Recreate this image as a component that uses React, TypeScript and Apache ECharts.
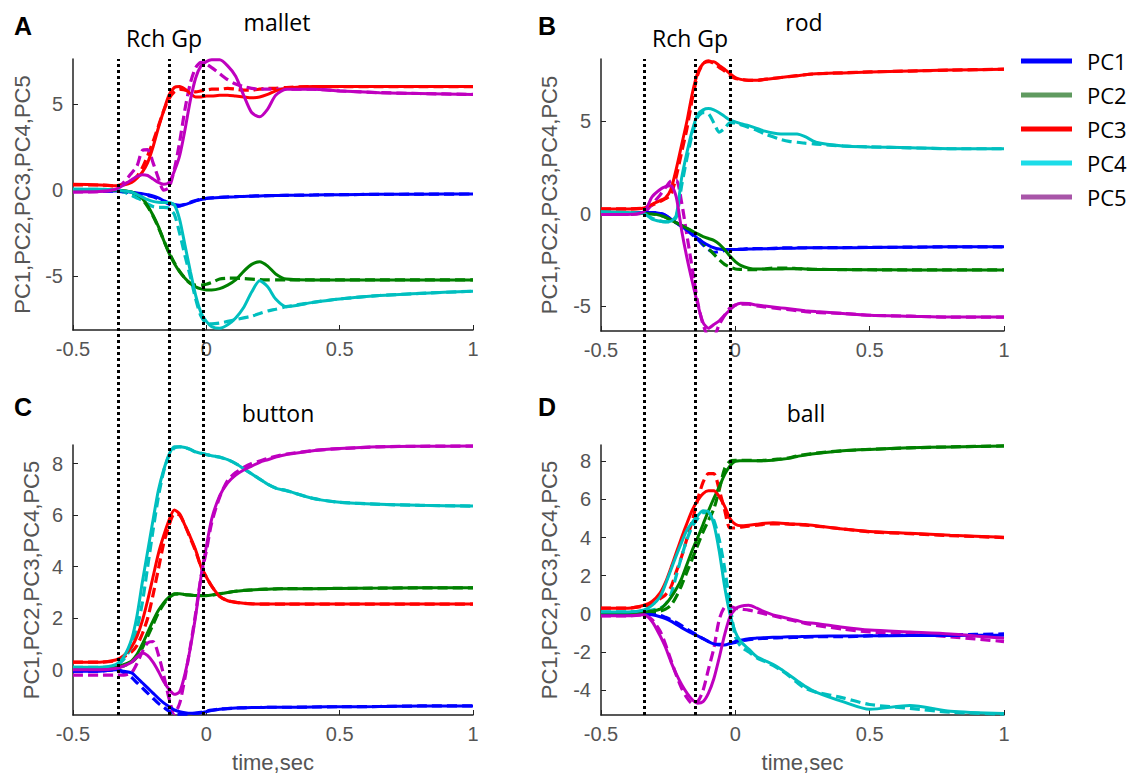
import React, { useEffect, useRef } from 'react';
import * as echarts from 'echarts';

// ---------- shared time grid (s) ----------
const T = [-0.5, -0.4, -0.34, -0.31, -0.28, -0.26, -0.24, -0.22, -0.2, -0.18, -0.16, -0.14, -0.12, -0.1, -0.08, -0.06, -0.04, -0.02, 0, 0.02, 0.05, 0.08, 0.11, 0.14, 0.17, 0.2, 0.23, 0.26, 0.3, 0.4, 0.5, 0.65, 0.8, 1.0];

const PC_NAMES = ['PC1', 'PC2', 'PC3', 'PC4', 'PC5'];
const LINE_COLORS = ['#0000ff', '#008000', '#ff0000', '#00bfbf', '#bf00bf'];
const LEGEND_COLORS = ['#0000ff', '#5f9a5f', '#ff0000', '#1cdce8', '#a855a8'];
const PANEL_LETTERS = ['A', 'B', 'C', 'D'];
const PANEL_TITLES = ['mallet', 'rod', 'button', 'ball'];
const EVENT_LABEL = 'Rch Gp';
const EVENTS_LEFT = [-0.33, -0.136, -0.01];
const EVENTS_RIGHT = [-0.338, -0.15, -0.021];
const X_TICKS = [-0.5, 0, 0.5, 1];
const A_TICKS = [-5, 0, 5];
const B_TICKS = [-5, 0, 5];
const C_TICKS = [0, 2, 4, 6, 8];
const D_TICKS = [-4, -2, 0, 2, 4, 6, 8];

// ---------- A: mallet ----------
const A_PC1 = [-0.05, -0.05, -0.05, -0.08, -0.12, -0.16, -0.2, -0.26, -0.33, -0.45, -0.6, -0.74, -0.83, -0.87, -0.83, -0.73, -0.62, -0.54, -0.48, -0.45, -0.42, -0.4, -0.38, -0.36, -0.35, -0.33, -0.32, -0.31, -0.3, -0.28, -0.26, -0.24, -0.23, -0.22];
const A_PC1_D = [-0.05, -0.05, -0.05, -0.1, -0.15, -0.2, -0.25, -0.3, -0.38, -0.5, -0.65, -0.8, -0.95, -0.92, -0.82, -0.7, -0.6, -0.52, -0.47, -0.44, -0.41, -0.39, -0.37, -0.36, -0.34, -0.33, -0.32, -0.31, -0.3, -0.28, -0.26, -0.24, -0.23, -0.22];
const A_PC2 = [0, 0, 0, -0.03, -0.1, -0.25, -0.48, -0.9, -1.45, -2.1, -2.9, -3.65, -4.25, -4.73, -5.1, -5.4, -5.6, -5.72, -5.78, -5.78, -5.7, -5.5, -5.2, -4.7, -4.3, -4.15, -4.4, -4.85, -5.15, -5.2, -5.2, -5.2, -5.2, -5.2];
const A_PC2_D = [0, 0, 0, -0.05, -0.15, -0.3, -0.55, -0.95, -1.5, -2.15, -2.9, -3.6, -4.2, -4.7, -5.1, -5.4, -5.5, -5.5, -5.45, -5.35, -5.15, -5.1, -5.1, -5.12, -5.15, -5.18, -5.2, -5.2, -5.2, -5.2, -5.2, -5.2, -5.2, -5.2];
const A_PC3 = [0.35, 0.3, 0.25, 0.3, 0.45, 0.7, 1.05, 1.6, 2.5, 3.6, 4.6, 5.5, 5.95, 6.0, 5.85, 5.6, 5.4, 5.4, 5.45, 5.45, 5.5, 5.5, 5.45, 5.4, 5.35, 5.4, 5.55, 5.75, 5.9, 6.0, 6.0, 6.0, 6.0, 6.0];
const A_PC3_D = [0.3, 0.3, 0.25, 0.35, 0.55, 0.8, 1.3, 2.0, 2.8, 3.7, 4.6, 5.3, 5.7, 5.85, 5.8, 5.75, 5.7, 5.75, 5.8, 5.85, 5.85, 5.9, 5.85, 5.8, 5.8, 5.85, 5.9, 5.9, 5.95, 6.0, 6.0, 6.0, 6.0, 6.0];
const A_PC4 = [0.05, 0.05, 0.02, -0.05, -0.12, -0.25, -0.4, -0.55, -0.65, -0.7, -0.72, -0.72, -0.85, -1.7, -3.2, -4.7, -6.1, -7.1, -7.6, -7.9, -8.0, -7.8, -7.4, -6.8, -5.9, -5.25, -5.6, -6.3, -6.75, -6.5, -6.3, -6.1, -5.98, -5.85];
const A_PC4_D = [0.05, 0.05, 0, -0.1, -0.3, -0.45, -0.6, -0.8, -0.95, -1.0, -1.0, -1.05, -1.4, -2.5, -3.8, -5.0, -6.3, -7.3, -7.7, -7.75, -7.7, -7.6, -7.5, -7.4, -7.3, -7.15, -7.0, -6.9, -6.75, -6.5, -6.3, -6.1, -5.98, -5.85];
const A_PC5 = [-0.1, -0.08, 0.05, 0.3, 0.6, 0.8, 0.9, 0.85, 0.65, 0.45, 0.35, 0.45, 1.1, 2.0, 3.5, 5.2, 6.5, 7.2, 7.45, 7.55, 7.55, 7.2, 6.6, 5.5, 4.5, 4.25, 4.7, 5.5, 5.85, 5.85, 5.75, 5.65, 5.6, 5.55];
const A_PC5_D = [-0.1, -0.08, 0.05, 0.45, 1.0, 1.4, 2.3, 2.35, 1.6, 0.7, 0.0, 0.15, 1.2, 2.8, 4.7, 6.2, 7.1, 7.4, 7.3, 7.1, 6.75, 6.4, 6.15, 6.0, 5.9, 5.85, 5.85, 5.85, 5.85, 5.85, 5.75, 5.65, 5.6, 5.55];

// ---------- B: rod ----------
const B_PC1 = [0, 0, 0.05, 0.05, 0, -0.1, -0.3, -0.5, -0.7, -0.9, -1.1, -1.35, -1.55, -1.72, -1.85, -1.92, -1.95, -1.95, -1.95, -1.95, -1.92, -1.9, -1.9, -1.9, -1.88, -1.88, -1.87, -1.86, -1.85, -1.85, -1.84, -1.82, -1.8, -1.8];
const B_PC1_D = [0, 0, 0.05, 0.05, 0, -0.1, -0.3, -0.5, -0.7, -0.9, -1.15, -1.4, -1.7, -1.95, -2.1, -2.05, -2.0, -1.95, -1.95, -1.93, -1.9, -1.9, -1.9, -1.88, -1.86, -1.85, -1.85, -1.85, -1.85, -1.84, -1.83, -1.82, -1.8, -1.8];
const B_PC2 = [0, 0, 0, -0.02, -0.1, -0.2, -0.35, -0.5, -0.65, -0.8, -0.95, -1.1, -1.25, -1.35, -1.45, -1.65, -1.95, -2.3, -2.6, -2.8, -2.95, -3.0, -3.0, -3.0, -3.0, -2.98, -2.98, -3.0, -3.02, -3.03, -3.04, -3.05, -3.05, -3.05];
const B_PC2_D = [0, 0, 0, -0.02, -0.1, -0.2, -0.35, -0.5, -0.65, -0.8, -1.0, -1.3, -1.6, -1.9, -2.2, -2.5, -2.75, -2.9, -3.0, -3.02, -3.03, -3.03, -3.0, -2.95, -2.95, -2.95, -2.98, -3.0, -3.02, -3.03, -3.04, -3.05, -3.05, -3.05];
const B_PC3 = [0.25, 0.25, 0.3, 0.5, 0.7, 0.85, 1.3, 2.4, 3.7, 5.0, 6.5, 7.6, 8.1, 8.2, 8.2, 8.0, 7.8, 7.55, 7.35, 7.25, 7.2, 7.2, 7.25, 7.3, 7.35, 7.4, 7.45, 7.5, 7.55, 7.6, 7.65, 7.7, 7.75, 7.8];
const B_PC3_D = [0.25, 0.25, 0.3, 0.45, 0.65, 0.8, 1.0, 2.0, 3.3, 4.6, 6.2, 7.5, 8.1, 8.25, 8.1, 7.9, 7.7, 7.45, 7.3, 7.25, 7.2, 7.2, 7.25, 7.3, 7.35, 7.4, 7.45, 7.5, 7.55, 7.6, 7.65, 7.7, 7.75, 7.8];
const B_PC4 = [0.1, 0.05, 0, -0.3, -0.42, -0.45, -0.42, -0.1, 1.9, 3.3, 4.5, 5.35, 5.6, 5.67, 5.6, 5.45, 5.25, 5.05, 4.95, 4.85, 4.75, 4.6, 4.45, 4.35, 4.3, 4.3, 4.3, 4.15, 3.85, 3.65, 3.6, 3.55, 3.5, 3.5];
const B_PC4_D = [0.1, 0.05, 0, -0.25, -0.4, -0.45, -0.45, -0.2, 1.5, 3.0, 4.3, 5.2, 5.45, 5.4, 4.9, 4.4, 4.6, 4.9, 4.9, 4.8, 4.65, 4.5, 4.3, 4.15, 4.0, 3.9, 3.85, 3.8, 3.75, 3.65, 3.6, 3.55, 3.5, 3.5];
const B_PC5 = [-0.05, -0.05, 0.1, 0.9, 1.3, 1.45, 1.5, 0.9, -0.9, -2.4, -3.7, -4.9, -5.9, -6.2, -6.0, -5.8, -5.5, -5.2, -4.95, -4.85, -4.87, -4.95, -5.0, -5.05, -5.1, -5.15, -5.2, -5.25, -5.3, -5.4, -5.5, -5.55, -5.6, -5.6];
const B_PC5_D = [-0.05, -0.05, 0.05, 0.5, 1.0, 1.4, 1.75, 1.8, 0.6, -1.2, -3.0, -4.8, -6.0, -6.6, -6.6, -6.0, -5.5, -5.1, -4.95, -4.9, -4.9, -5.0, -5.05, -5.1, -5.15, -5.2, -5.25, -5.3, -5.35, -5.4, -5.5, -5.55, -5.6, -5.6];

// ---------- C: button ----------
const C_PC1 = [-0.05, -0.05, 0, -0.05, -0.12, -0.3, -0.5, -0.7, -0.9, -1.1, -1.28, -1.42, -1.55, -1.62, -1.66, -1.68, -1.68, -1.66, -1.62, -1.58, -1.53, -1.5, -1.48, -1.47, -1.46, -1.46, -1.45, -1.45, -1.45, -1.44, -1.43, -1.42, -1.4, -1.4];
const C_PC1_D = [-0.05, -0.05, 0, -0.1, -0.3, -0.5, -0.7, -0.9, -1.1, -1.3, -1.45, -1.6, -1.7, -1.72, -1.72, -1.7, -1.68, -1.65, -1.6, -1.56, -1.52, -1.5, -1.48, -1.47, -1.46, -1.46, -1.45, -1.45, -1.45, -1.44, -1.43, -1.42, -1.4, -1.4];
const C_PC2 = [0.05, 0.05, 0.1, 0.2, 0.35, 0.6, 1.0, 1.45, 1.9, 2.3, 2.6, 2.82, 2.95, 2.95, 2.92, 2.9, 2.88, 2.88, 2.88, 2.9, 2.95, 3.0, 3.05, 3.08, 3.1, 3.12, 3.13, 3.14, 3.15, 3.15, 3.16, 3.17, 3.18, 3.18];
const C_PC2_D = [0.05, 0.05, 0.1, 0.15, 0.3, 0.5, 0.85, 1.3, 1.75, 2.2, 2.55, 2.8, 2.93, 2.95, 2.92, 2.9, 2.88, 2.88, 2.88, 2.9, 2.95, 3.0, 3.05, 3.08, 3.1, 3.12, 3.13, 3.14, 3.15, 3.15, 3.16, 3.17, 3.18, 3.18];
const C_PC3 = [0.3, 0.3, 0.38, 0.55, 0.9, 1.3, 1.9, 2.7, 3.6, 4.5, 5.2, 5.8, 6.2, 6.05, 5.6, 5.15, 4.65, 4.0, 3.6, 3.25, 2.85, 2.68, 2.62, 2.58, 2.56, 2.55, 2.55, 2.55, 2.55, 2.55, 2.55, 2.55, 2.55, 2.55];
const C_PC3_D = [0.3, 0.3, 0.35, 0.5, 0.7, 0.95, 1.4, 2.0, 2.9, 3.9, 4.9, 5.6, 6.05, 6.0, 5.6, 5.1, 4.6, 4.0, 3.6, 3.25, 2.85, 2.68, 2.62, 2.58, 2.56, 2.55, 2.55, 2.55, 2.55, 2.55, 2.55, 2.55, 2.55, 2.55];
const C_PC4 = [0.1, 0.1, 0.2, 0.5, 1.2, 2.1, 3.4, 4.6, 5.8, 6.95, 7.75, 8.35, 8.65, 8.65, 8.62, 8.55, 8.45, 8.4, 8.35, 8.3, 8.25, 8.15, 8.0, 7.8, 7.6, 7.4, 7.2, 7.05, 6.95, 6.65, 6.5, 6.42, 6.38, 6.35];
const C_PC4_D = [0.1, 0.1, 0.15, 0.4, 0.9, 1.6, 2.6, 4.0, 5.4, 6.7, 7.7, 8.3, 8.6, 8.65, 8.62, 8.55, 8.45, 8.4, 8.35, 8.3, 8.25, 8.15, 8.0, 7.8, 7.6, 7.4, 7.2, 7.05, 6.95, 6.65, 6.5, 6.42, 6.38, 6.35];
const C_PC5 = [0, 0, 0.05, 0.15, 0.3, 0.5, 0.65, 0.55, 0.3, -0.05, -0.45, -0.75, -0.95, -0.85, -0.15, 0.85, 2.1, 3.6, 4.78, 5.85, 6.75, 7.25, 7.55, 7.75, 7.9, 8.05, 8.15, 8.25, 8.35, 8.5, 8.58, 8.65, 8.67, 8.68];
const C_PC5_D = [-0.2, -0.2, -0.2, -0.2, -0.1, 0.25, 0.7, 1.05, 1.1, 0.6, -0.2, -1.1, -1.7, -1.3, -0.3, 0.9, 2.2, 3.6, 4.6, 5.7, 6.7, 7.35, 7.65, 7.85, 8.0, 8.1, 8.2, 8.28, 8.37, 8.5, 8.58, 8.65, 8.67, 8.68];

// ---------- D: ball ----------
const D_PC1 = [0, 0, 0, -0.05, -0.15, -0.25, -0.38, -0.55, -0.72, -0.88, -1.02, -1.15, -1.3, -1.45, -1.57, -1.63, -1.63, -1.55, -1.45, -1.38, -1.3, -1.27, -1.25, -1.23, -1.22, -1.2, -1.2, -1.18, -1.17, -1.16, -1.15, -1.14, -1.13, -1.12];
const D_PC1_D = [0, 0, 0, -0.02, -0.08, -0.18, -0.3, -0.45, -0.62, -0.8, -0.97, -1.13, -1.3, -1.45, -1.55, -1.6, -1.6, -1.55, -1.5, -1.42, -1.35, -1.3, -1.28, -1.26, -1.25, -1.24, -1.23, -1.22, -1.2, -1.2, -1.15, -1.12, -1.1, -1.05];
const D_PC2 = [0.05, 0.05, 0.1, 0.15, 0.25, 0.5, 0.85, 1.3, 1.85, 2.6, 3.35, 4.0, 4.7, 5.4, 6.05, 6.65, 7.3, 7.75, 8.0, 8.02, 8.03, 8.03, 8.03, 8.05, 8.1, 8.15, 8.25, 8.32, 8.4, 8.55, 8.62, 8.7, 8.75, 8.8];
const D_PC2_D = [0.05, 0.05, 0.08, 0.1, 0.15, 0.25, 0.45, 0.9, 1.5, 2.2, 2.9, 3.6, 4.3, 4.9, 5.5, 6.5, 7.6, 8.0, 8.05, 8.05, 8.05, 8.03, 8.05, 8.08, 8.12, 8.18, 8.28, 8.35, 8.42, 8.55, 8.62, 8.7, 8.75, 8.8];
const D_PC3 = [0.3, 0.3, 0.45, 0.65, 1.1, 1.65, 2.4, 3.2, 4.0, 4.75, 5.45, 5.95, 6.3, 6.45, 6.45, 6.15, 5.65, 5.0, 4.7, 4.62, 4.65, 4.7, 4.75, 4.78, 4.75, 4.72, 4.7, 4.68, 4.62, 4.45, 4.32, 4.22, 4.12, 4.02];
const D_PC3_D = [0.3, 0.3, 0.4, 0.5, 0.8, 1.0, 1.4, 2.2, 3.0, 3.95, 4.9, 6.0, 6.9, 7.35, 7.35, 6.5, 5.45, 4.5, 4.5, 4.55, 4.6, 4.65, 4.7, 4.72, 4.72, 4.7, 4.68, 4.65, 4.6, 4.45, 4.3, 4.2, 4.1, 4.0];
const D_PC4 = [0.1, 0.1, 0.2, 0.45, 0.9, 1.55, 2.3, 3.05, 3.75, 4.4, 4.8, 5.15, 5.4, 5.35, 4.7, 3.3, 1.45, 0.0, -0.95, -1.45, -1.85, -2.25, -2.45, -2.65, -2.9, -3.2, -3.5, -3.8, -4.1, -4.6, -5.0, -4.8, -5.1, -5.22];
const D_PC4_D = [0.1, 0.1, 0.15, 0.2, 0.3, 0.5, 1.0, 2.0, 3.0, 3.9, 4.6, 5.0, 5.3, 5.3, 4.9, 3.9, 2.4, 0.5, -1.2, -1.7, -2.0, -2.3, -2.5, -2.7, -2.95, -3.25, -3.6, -3.9, -4.1, -4.4, -4.75, -4.95, -5.15, -5.25];
const D_PC5 = [-0.1, -0.1, -0.05, -0.4, -1.15, -1.75, -2.5, -3.15, -3.7, -4.15, -4.5, -4.68, -4.6, -4.15, -3.4, -2.3, -1.1, -0.15, 0.25, 0.4, 0.45, 0.3, 0.1, -0.05, -0.15, -0.25, -0.35, -0.45, -0.5, -0.7, -0.85, -0.95, -1.05, -1.28];
const D_PC5_D = [-0.1, -0.1, -0.05, -0.3, -0.9, -1.6, -2.4, -3.2, -3.9, -4.4, -4.7, -4.6, -4.0, -2.9, -1.8, -0.3, 0.35, 0.4, 0.3, 0.25, 0.2, 0.1, 0.0, -0.1, -0.2, -0.3, -0.4, -0.5, -0.6, -0.8, -0.95, -1.05, -1.2, -1.45];

const SOLID = [
  [A_PC1, A_PC2, A_PC3, A_PC4, A_PC5],
  [B_PC1, B_PC2, B_PC3, B_PC4, B_PC5],
  [C_PC1, C_PC2, C_PC3, C_PC4, C_PC5],
  [D_PC1, D_PC2, D_PC3, D_PC4, D_PC5],
];
const DASHED = [
  [A_PC1_D, A_PC2_D, A_PC3_D, A_PC4_D, A_PC5_D],
  [B_PC1_D, B_PC2_D, B_PC3_D, B_PC4_D, B_PC5_D],
  [C_PC1_D, C_PC2_D, C_PC3_D, C_PC4_D, C_PC5_D],
  [D_PC1_D, D_PC2_D, D_PC3_D, D_PC4_D, D_PC5_D],
];
const Y_RANGES = [[-8.1, 7.6], [-6.35, 8.35], [-1.75, 8.72], [-5.3, 8.85]];
const Y_TICKS = [A_TICKS, B_TICKS, C_TICKS, D_TICKS];

// ---------- layout (pixels) ----------
const LAYOUT = [
  { left: 73, top: 59, width: 400, height: 271, nameGap: 40 },
  { left: 601, top: 59, width: 403, height: 272, nameGap: 41 },
  { left: 73, top: 445, width: 400, height: 270, nameGap: 31 },
  { left: 601, top: 445, width: 403, height: 270, nameGap: 41 },
];
const LETTER_POS = [[23, 26], [547, 26], [23, 407], [547, 407]];
const TITLE_POS = [[277, 22], [804, 22], [278, 413], [806, 413]];
const EVENT_LABEL_POS = [[164, 38], [690, 38]];

const SANS = '"Liberation Sans", Arial, sans-serif';
const OPEN = '"Open Sans", "Noto Sans", sans-serif';
const AX = '#222';
const TXT = '#555';

function buildOption() {
  const grid: any[] = LAYOUT.map((l) => ({ left: l.left, top: l.top, width: l.width, height: l.height }));
  grid.push({ left: 73, top: 59, width: 400, height: 656 });
  grid.push({ left: 601, top: 59, width: 403, height: 656 });

  const xAxis: any[] = LAYOUT.map((_, p) => ({
    type: 'value', gridIndex: p, min: -0.5, max: 1, interval: 0.5,
    axisLine: { show: true, onZero: false, lineStyle: { color: AX, width: 1.5 } },
    axisTick: { show: true, inside: true, length: 5, customValues: X_TICKS, lineStyle: { color: AX } },
    axisLabel: { customValues: X_TICKS, color: TXT, fontSize: 20, fontFamily: SANS, margin: 9 },
    splitLine: { show: false },
    name: p >= 2 ? 'time,sec' : '', nameLocation: 'middle', nameGap: 36,
    nameTextStyle: { color: TXT, fontSize: 22, fontFamily: SANS },
  }));
  xAxis.push({ type: 'value', gridIndex: 4, min: -0.5, max: 1, show: false });
  xAxis.push({ type: 'value', gridIndex: 5, min: -0.5, max: 1, show: false });

  const yAxis: any[] = LAYOUT.map((l, p) => ({
    type: 'value', gridIndex: p, min: Y_RANGES[p][0], max: Y_RANGES[p][1],
    axisLine: { show: true, onZero: false, lineStyle: { color: AX, width: 1.5 } },
    axisTick: { show: true, inside: true, length: 5, customValues: Y_TICKS[p], lineStyle: { color: AX } },
    axisLabel: { customValues: Y_TICKS[p], color: TXT, fontSize: 20, fontFamily: SANS, margin: 10 },
    splitLine: { show: false },
    name: 'PC1,PC2,PC3,PC4,PC5', nameLocation: 'middle', nameRotate: 90, nameGap: l.nameGap,
    nameTextStyle: { color: TXT, fontSize: 22, fontFamily: SANS },
  }));
  yAxis.push({ type: 'value', gridIndex: 4, min: 0, max: 1, show: false });
  yAxis.push({ type: 'value', gridIndex: 5, min: 0, max: 1, show: false });

  const series: any[] = [];
  for (let p = 0; p < 4; p++) {
    for (let i = 0; i < 5; i++) {
      series.push({
        type: 'line', name: PC_NAMES[i] + ' dashed', xAxisIndex: p, yAxisIndex: p,
        data: T.map((t, k) => [t, DASHED[p][i][k]]),
        showSymbol: false, smooth: 0.25, silent: true, z: 2,
        lineStyle: { color: LINE_COLORS[i], width: 3.2, type: [10, 5] },
        itemStyle: { color: LINE_COLORS[i] },
      });
      series.push({
        type: 'line', name: PC_NAMES[i], xAxisIndex: p, yAxisIndex: p,
        data: T.map((t, k) => [t, SOLID[p][i][k]]),
        showSymbol: false, smooth: 0.25, silent: true, z: 3,
        lineStyle: { color: LINE_COLORS[i], width: 3 },
        itemStyle: { color: LINE_COLORS[i] },
      });
    }
  }
  [EVENTS_LEFT, EVENTS_RIGHT].forEach((ev, c) => {
    series.push({
      type: 'line', name: 'events', xAxisIndex: 4 + c, yAxisIndex: 4 + c, data: [], z: 10, silent: true,
      markLine: {
        silent: true, symbol: ['none', 'none'], label: { show: false },
        lineStyle: { color: '#000', width: 3, type: [3, 3] },
        data: ev.map((v) => ({ xAxis: v })),
      },
    });
  });

  const graphic: any[] = [];
  PANEL_LETTERS.forEach((s, p) => graphic.push({
    type: 'text', x: LETTER_POS[p][0], y: LETTER_POS[p][1],
    style: { text: s, font: `bold 25px ${SANS}`, fill: '#000', textAlign: 'center', textVerticalAlign: 'middle' },
  }));
  PANEL_TITLES.forEach((s, p) => graphic.push({
    type: 'text', x: TITLE_POS[p][0], y: TITLE_POS[p][1],
    style: { text: s, font: `23px ${OPEN}`, fill: '#000', textAlign: 'center', textVerticalAlign: 'middle' },
  }));
  EVENT_LABEL_POS.forEach((pos) => graphic.push({
    type: 'text', x: pos[0], y: pos[1],
    style: { text: EVENT_LABEL, font: `23px ${OPEN}`, fill: '#000', textAlign: 'center', textVerticalAlign: 'middle' },
  }));

  return {
    animation: false,
    backgroundColor: '#fff',
    grid, xAxis, yAxis, series, graphic,
    legend: {
      orient: 'vertical', left: 1016, top: 44, itemWidth: 51, itemHeight: 5, itemGap: 10,
      icon: 'rect', selectedMode: false,
      textStyle: { fontSize: 22, fontFamily: OPEN, color: '#000', lineHeight: 24, padding: [0, 0, 0, 10] },
      data: PC_NAMES.map((n, i) => ({ name: n, icon: 'rect', itemStyle: { color: LEGEND_COLORS[i] } })),
    },
  };
}

export default function App() {
  const ref = useRef<HTMLDivElement>(null);
  useEffect(() => {
    const chart = echarts.init(ref.current as HTMLDivElement, null, { renderer: 'svg' });
    chart.setOption(buildOption() as any);
    return () => chart.dispose();
  }, []);
  return (
    <div
      ref={ref}
      style={{ position: 'absolute', left: 0, top: 0, width: 1131, height: 775, background: '#fff' }}
    />
  );
}
